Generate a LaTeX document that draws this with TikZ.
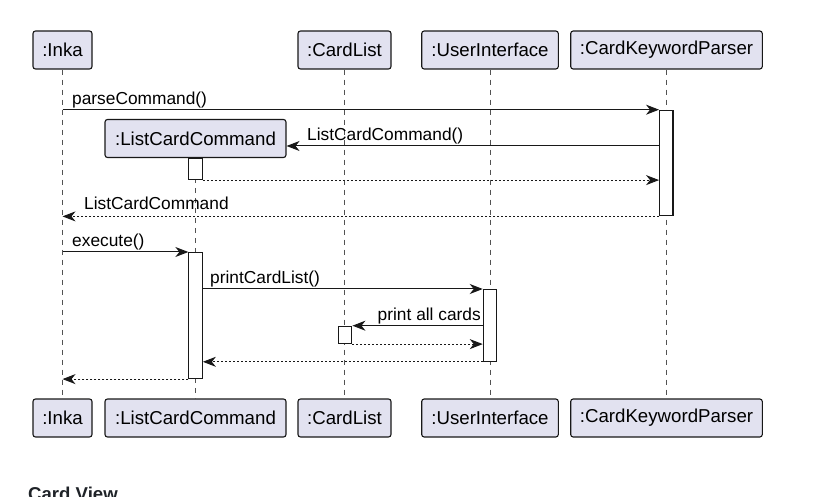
\documentclass[tikz,border=0pt]{standalone}
\usepackage{fontspec}
\setmainfont{Liberation Sans}
\usetikzlibrary{arrows.meta}
\definecolor{boxfill}{HTML}{E2E2F0}
\definecolor{boxline}{HTML}{181818}
\definecolor{headtext}{HTML}{1F2328}
\tikzset{
  part/.style={draw=boxline, fill=boxfill, line width=1.1pt, rounded corners=2.5pt,
    minimum height=38pt, inner sep=0pt, font=\fontsize{18.67}{20}\selectfont},
  lifeline/.style={draw=boxline!75, line width=0.9pt, dash pattern=on 5pt off 5pt},
  act/.style={draw=boxline, fill=white, line width=1.1pt, inner sep=0pt, minimum width=13.4pt, anchor=north},
  tip/.style={-{Stealth[length=13pt,width=10pt,inset=4pt]}},
  msg/.style={tip, draw=boxline, line width=1pt},
  ret/.style={tip, draw=boxline, line width=1pt, dash pattern=on 2pt off 2pt},
  lbl/.style={inner sep=0pt, font=\fontsize{17.33}{19}\selectfont}
}
\begin{document}
\begin{tikzpicture}[x=1pt,y=-1pt]
\useasboundingbox (0,0) rectangle (836,497);
% participants (top)
\node[part, minimum width=59pt] (inka) at (62.5,50) {:Inka};
\node[part, minimum width=93pt] (cl) at (344.5,50) {:CardList};
\node[part, minimum width=136.6pt] (ui) at (490,50) {:UserInterface};
\node[part, minimum width=191.6pt] (ckp) at (666.5,50) {:CardKeywordParser};
\node[part, minimum width=181pt] (lcc) at (195.5,138.5) {:ListCardCommand};
% participants (bottom)
\node[part, minimum width=59pt] (inkaB) at (62.5,418) {:Inka};
\node[part, minimum width=181pt] (lccB) at (195.5,418) {:ListCardCommand};
\node[part, minimum width=93pt] (clB) at (344.5,418) {:CardList};
\node[part, minimum width=136.6pt] (uiB) at (490,418) {:UserInterface};
\node[part, minimum width=191.6pt] (ckpB) at (666.5,418) {:CardKeywordParser};
% lifelines
\draw[lifeline] (inka.south) -- (inkaB.north);
\draw[lifeline] (lcc.south) -- (lccB.north);
\draw[lifeline] (cl.south) -- (clB.north);
\draw[lifeline] (ui.south) -- (uiB.north);
\draw[lifeline] (ckp.south) -- (ckpB.north);
% activations
\node[act, minimum height=105.6pt] (a1) at (666.3,109.7) {};
\node[act, minimum height=21pt] (a2) at (195.6,158) {};
\node[act, minimum height=126pt] (a3) at (195.6,252) {};
\node[act, minimum height=71.7pt] (a4) at (490,289) {};
\node[act, minimum height=17.3pt] (a5) at (345.2,325.7) {};
% messages
\draw[msg] (inka.south |- a1.north) -- (a1.north west);
\node[lbl, anchor=base west] at (72,104.5) {parseCommand()};
\coordinate (m2) at (0,146);
\draw[msg] (a1.west |- m2) -- (lcc.east |- m2);
\node[lbl, anchor=base west] at (307,140.5) {ListCardCommand()};
\draw[ret] (a2.south east) -- (a1.west |- a2.south);
\draw[ret] (a1.south west) -- (inka.south |- a1.south);
\node[lbl, anchor=base west] at (84,210) {ListCardCommand};
\draw[msg] (inka.south |- a3.north) -- (a3.north west);
\node[lbl, anchor=base west] at (72,246.5) {execute()};
\draw[msg] (a3.east |- a4.north) -- (a4.north west);
\node[lbl, anchor=base west] at (210,283.5) {printCardList()};
\draw[msg] (a4.west |- a5.north) -- (a5.north east);
\node[lbl, anchor=base east] at (481,320.5) {print all cards};
\draw[ret] (a5.south east) -- (a4.west |- a5.south);
\draw[ret] (a4.south west) -- (a3.east |- a4.south);
\draw[ret] (a3.south west) -- (inka.south |- a3.south);
% heading below (cut off)
\node[inner sep=0pt, anchor=base west, text=headtext, font=\fontsize{18.6}{20}\selectfont\bfseries] (cv) at (28,500.5) {Card View};
\end{tikzpicture}
\end{document}
